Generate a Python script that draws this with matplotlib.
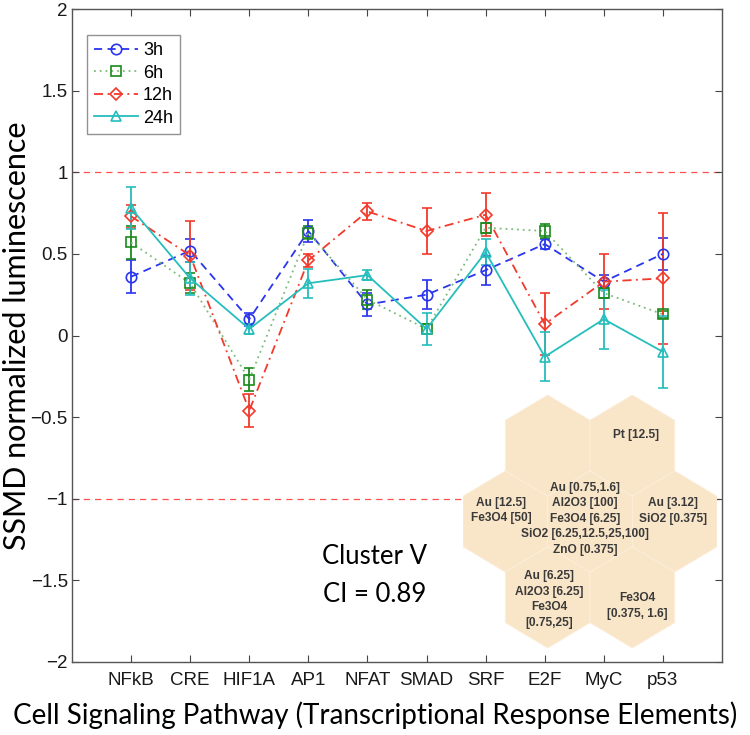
import numpy as np
import matplotlib
matplotlib.use('Agg')
import matplotlib.pyplot as plt
from matplotlib.patches import RegularPolygon

# values
pathways = ['NFkB', 'CRE', 'HIF1A', 'AP1', 'NFAT', 'SMAD', 'SRF', 'E2F', 'MyC', 'p53']
h3 = [0.36, 0.52, 0.10, 0.64, 0.19, 0.25, 0.40, 0.56, 0.33, 0.50]
h3_err = [0.10, 0.07, 0.04, 0.07, 0.07, 0.09, 0.09, 0.03, 0.04, 0.10]
h6 = [0.57, 0.32, -0.27, 0.63, 0.22, 0.04, 0.66, 0.64, 0.26, 0.13]
h6_err = [0.10, 0.06, 0.07, 0.04, 0.06, 0.03, 0.03, 0.04, 0.03, 0.02]
h12 = [0.73, 0.49, -0.46, 0.46, 0.76, 0.64, 0.74, 0.07, 0.33, 0.35]
h12_err = [0.07, 0.21, 0.10, 0.04, 0.05, 0.14, 0.13, 0.19, 0.17, 0.40]
h24 = [0.78, 0.35, 0.04, 0.32, 0.37, 0.04, 0.51, -0.13, 0.10, -0.10]
h24_err = [0.13, 0.10, 0.03, 0.09, 0.03, 0.10, 0.08, 0.15, 0.18, 0.22]

yticks = [-2, -1.5, -1, -0.5, 0, 0.5, 1, 1.5, 2]
ytick_labels = ['\u22122', '\u22121.5', '\u22121', '\u22120.5', '0', '0.5', '1', '1.5', '2']

# hexagon cluster: (column, row) in hex grid, and text for each cell
hex_cells = [(-0.5, 1), (0.5, 1), (-1, 0), (0, 0), (1, 0), (-0.5, -1), (0.5, -1)]
hex_labels = [[], ['Pt [12.5]'],
              ['Au [12.5]', 'Fe3O4 [50]'],
              ['Au [0.75,1.6]', 'Al2O3 [100]', 'Fe3O4 [6.25]', 'SiO2 [6.25,12.5,25,100]', 'ZnO [0.375]'],
              ['Au [3.12]', 'SiO2 [0.375]'],
              ['Au [6.25]', 'Al2O3 [6.25]', 'Fe3O4', '[0.75,25]'],
              ['Fe3O4', '[0.375, 1.6]']]
hex_text_dx = [0, 0.08, -0.08, -0.1, -0.03, 0.03, 0.1]
hex_text_dy = [0, 0.21, 0.22, 0.05, 0.21, -0.04, -0.17]
line_step = 0.306

tick_font = 'Liberation Sans'
label_font = ['Lato', 'DejaVu Sans']

fig = plt.figure(figsize=(7.5, 7.35), dpi=100)
ax = fig.add_axes([72 / 750, 1 - 662 / 735, 650 / 750, 653 / 735])

x = np.arange(1, len(pathways) + 1)

series = [
    (h3, h3_err, '3h', dict(color='#2a35ee', ls=(0, (4.5, 3)), marker='o', mec='#2a35ee', ecolor='#2a35ee')),
    (h6, h6_err, '6h', dict(color='#7bbb7b', ls=(0, (1, 2.2)), marker='s', mec='#1b8a1b', ecolor='#1b8a1b')),
    (h12, h12_err, '12h', dict(color='#f2392b', ls=(0, (5, 2.5, 1, 2.5)), marker='D', mec='#f2392b', ecolor='#f2392b')),
    (h24, h24_err, '24h', dict(color='#26bdbd', ls='-', marker='^', mec='#26bdbd', ecolor='#26bdbd')),
]

handles = []
for vals, errs, name, st in series:
    ms = 6 if st['marker'] == 'D' else 7.5
    cont = ax.errorbar(x, vals, yerr=errs, color=st['color'], ls=st['ls'], lw=1.3,
                       marker=st['marker'], ms=ms, mfc='none', mec=st['mec'], mew=1.2,
                       ecolor=st['ecolor'], elinewidth=1.3, capsize=3.8, capthick=1.3,
                       label=name)
    handles.append(cont[0])

ax.axhline(1, color='#ff5050', ls=(0, (5, 4)), lw=0.9, zorder=0)
ax.axhline(-1, color='#ff5050', ls=(0, (5, 4)), lw=0.9, zorder=0)

ax.set_xlim(0, 11)
ax.set_ylim(-2, 2)
ax.set_xticks(x)
ax.set_xticklabels(pathways, fontsize=13.5, family=tick_font)
ax.set_yticks(yticks)
ax.set_yticklabels(ytick_labels, fontsize=13.5, family=tick_font)
ax.tick_params(direction='in', length=5, width=0.8, top=True, right=True, colors='#444444',
               labelcolor='#1a1a1a')
ax.tick_params(axis='x', pad=7)
ax.tick_params(axis='y', pad=3)
for sp in ax.spines.values():
    sp.set_color('#555555')
    sp.set_linewidth(1.0)

ax.set_xlabel('Cell Signaling Pathway (Transcriptional Response Elements)', fontsize=20,
              family=label_font)
ax.xaxis.set_label_coords((375 - 72) / 650, -(715 - 662) / 653)
ax.xaxis.label.set_va('center')
ax.set_ylabel('SSMD normalized luminescence', fontsize=22, family=label_font)
ax.yaxis.set_label_coords((17 - 72) / 650, 0.5)
ax.yaxis.label.set_va('center')

leg = ax.legend(handles=handles, labels=[s[2] for s in series], loc='upper left',
                bbox_to_anchor=(0.023, 0.96), borderaxespad=0, fancybox=False,
                edgecolor='#777777', handlelength=2.4, handletextpad=0.3,
                labelspacing=0.3, borderpad=0.4, prop={'family': tick_font, 'size': 13})
leg.get_frame().set_linewidth(1.0)

fig.text(375 / 750, 1 - 556 / 735, 'Cluster V', fontsize=18.5, family=label_font,
         ha='center', va='center')
fig.text(375 / 750, 1 - 594 / 735, 'CI = 0.89', fontsize=18.5, family=label_font,
         ha='center', va='center')

# hexagon cluster as an inset
hx = fig.add_axes([463 / 750, 1 - 648 / 735, 254 / 750, 253 / 735])
w = np.sqrt(3)
hx.set_xlim(-1.5 * w, 1.5 * w)
hx.set_ylim(-2.5, 2.5)
hx.axis('off')
for (c, r), lines, dx, dy in zip(hex_cells, hex_labels, hex_text_dx, hex_text_dy):
    cx, cy = c * w, r * 1.5
    hx.add_patch(RegularPolygon((cx, cy), numVertices=6, radius=1.0, orientation=0,
                                facecolor='#f9e5c7', edgecolor='#fcefdc', lw=0.6))
    n = len(lines)
    for i, txt in enumerate(lines):
        ty = cy + dy - (i - (n - 1) / 2) * line_step
        hx.text(cx + dx, ty, txt, ha='center', va='center', fontsize=8.6,
                fontweight='bold', family=tick_font, color='#3a3a3a')

fig.savefig('out.png', dpi=100)
